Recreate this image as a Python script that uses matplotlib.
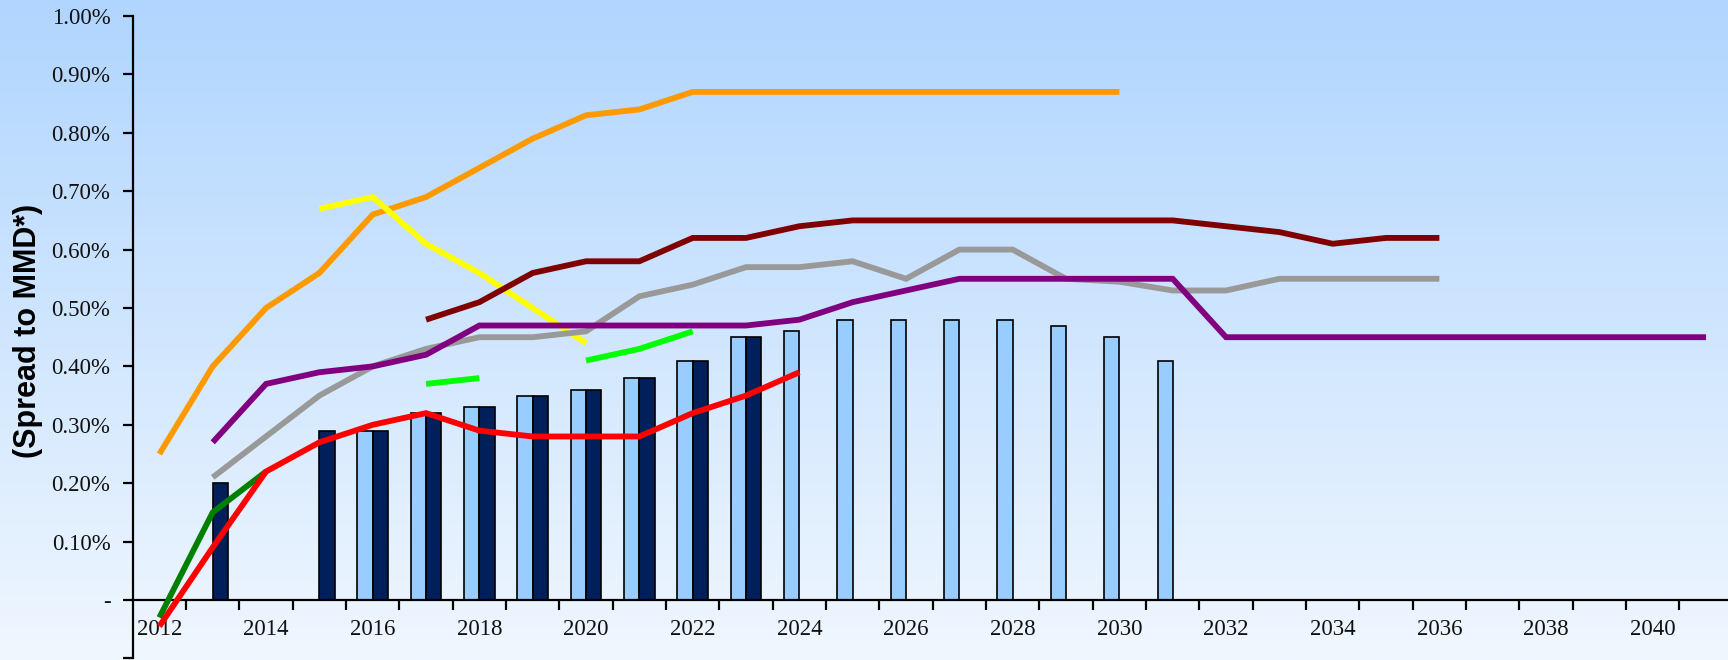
import numpy as np
import matplotlib.pyplot as plt
from matplotlib.colors import LinearSegmentedColormap
from matplotlib.ticker import FixedLocator, FuncFormatter

# categories
years = np.arange(2012, 2042)

# bar series (spread, %), first year of each
light_start = 2016
light = [0.29, 0.32, 0.33, 0.35, 0.36, 0.38, 0.41, 0.45, 0.46, 0.48, 0.48, 0.48,
         0.48, 0.47, 0.45, 0.41]
navy_start = 2013
navy = [0.20, np.nan, 0.29, 0.29, 0.32, 0.33, 0.35, 0.36, 0.38, 0.41, 0.45]

# line series (spread, %), first year of each
orange_start = 2012
orange = [0.25, 0.40, 0.50, 0.56, 0.66, 0.69, 0.74, 0.79, 0.83, 0.84, 0.87, 0.87,
          0.87, 0.87, 0.87, 0.87, 0.87, 0.87, 0.87]
yellow_start = 2015
yellow = [0.67, 0.69, 0.61, 0.56, 0.50, 0.44]
darkred_start = 2017
darkred = [0.48, 0.51, 0.56, 0.58, 0.58, 0.62, 0.62, 0.64, 0.65, 0.65, 0.65, 0.65,
           0.65, 0.65, 0.65, 0.64, 0.63, 0.61, 0.62, 0.62]
gray_start = 2013
gray = [0.21, 0.28, 0.35, 0.40, 0.43, 0.45, 0.45, 0.46, 0.52, 0.54, 0.57, 0.57,
        0.58, 0.55, 0.60, 0.60, 0.55, 0.545, 0.53, 0.53, 0.55, 0.55, 0.55, 0.55]
purple_start = 2013
purple = [0.27, 0.37, 0.39, 0.40, 0.42, 0.47, 0.47, 0.47, 0.47, 0.47, 0.47, 0.48,
          0.51, 0.53, 0.55, 0.55, 0.55, 0.55, 0.55, 0.45, 0.45, 0.45, 0.45, 0.45,
          0.45, 0.45, 0.45, 0.45, 0.45]
green_start = 2012
green = [-0.03, 0.15, 0.22]
lime_start = 2017
lime = [0.37, 0.38, np.nan, 0.41, 0.43, 0.46]
red_start = 2012
red = [-0.045, 0.09, 0.22, 0.27, 0.30, 0.32, 0.29, 0.28, 0.28, 0.28, 0.32, 0.35, 0.39]


def series(start, vals):
    out = np.full(len(years), np.nan)
    i = start - years[0]
    out[i:i + len(vals)] = vals
    return out


fig = plt.figure(figsize=(17.28, 6.6), dpi=100)

# gradient background over the whole figure
bg = fig.add_axes([0, 0, 1, 1], zorder=-10)
grad = np.linspace(0, 1, 256).reshape(-1, 1)
cmap = LinearSegmentedColormap.from_list('bg', ['#B0D5FE', '#F0F7FF'])
bg.imshow(grad, aspect='auto', cmap=cmap, extent=[0, 1, 0, 1], origin='upper')
bg.axis('off')

ax = fig.add_axes([132.7 / 1728, 1.6 / 660, 1600 / 1728, 642.4 / 660])
ax.patch.set_alpha(0)

x = np.arange(len(years))
bw = 0.285
ax.bar(x - bw / 2, series(light_start, light), bw, color='#99CCFF',
       edgecolor='black', linewidth=1.2, zorder=2)
ax.bar(x + bw / 2, series(navy_start, navy), bw, color='#001F5B',
       edgecolor='black', linewidth=1.2, zorder=2)

lines = [
    (orange_start, orange, '#FF9900'),
    (yellow_start, yellow, '#FFFF00'),
    (darkred_start, darkred, '#800000'),
    (gray_start, gray, '#999999'),
    (purple_start, purple, '#800080'),
    (green_start, green, '#008000'),
    (lime_start, lime, '#00FF00'),
    (red_start, red, '#FF0000'),
]
for start, vals, col in lines:
    ax.plot(x, series(start, vals), color=col, lw=4.2,
            solid_capstyle='butt', solid_joinstyle='miter', zorder=3)

ax.set_xlim(-0.5, len(years) - 0.5)
ax.set_ylim(-0.1, 1.0)

for s in ['top', 'right']:
    ax.spines[s].set_visible(False)
ax.spines['bottom'].set_position(('data', 0))
ax.spines['bottom'].set_linewidth(1.6)
ax.spines['left'].set_linewidth(1.6)

# y axis
ax.yaxis.set_major_locator(FixedLocator(np.round(np.arange(-0.1, 1.01, 0.1), 2)))


def yfmt(v, pos):
    if v < -1e-9:
        return ''
    if abs(v) < 1e-9:
        return '-'
    return f'{v:.2f}%'


ax.yaxis.set_major_formatter(FuncFormatter(yfmt))
ax.tick_params(axis='y', direction='out', length=7, width=1.6, pad=9,
               labelsize=16.5)

# x axis: ticks between categories, labels every other year
ax.xaxis.set_major_locator(FixedLocator(np.arange(0.5, len(years) - 0.5, 1)))
ax.xaxis.set_major_formatter(FuncFormatter(lambda v, p: ''))
ax.xaxis.set_minor_locator(FixedLocator(x[::2]))
ax.xaxis.set_minor_formatter(FuncFormatter(lambda v, p: str(years[int(round(v))])))
ax.tick_params(axis='x', which='major', direction='out', length=7, width=1.6)
ax.tick_params(axis='x', which='minor', length=0, pad=14, labelsize=16.5)

for lab in ax.get_xticklabels(minor=True) + ax.get_yticklabels():
    lab.set_family('Liberation Serif')
    lab.set_color('#111111')

ax.set_ylabel('(Spread to MMD*)', fontsize=22, fontweight='bold',
              family='Liberation Sans')
ax.yaxis.set_label_coords(-0.056, 0.51)

fig.savefig('out.png', dpi=100)
